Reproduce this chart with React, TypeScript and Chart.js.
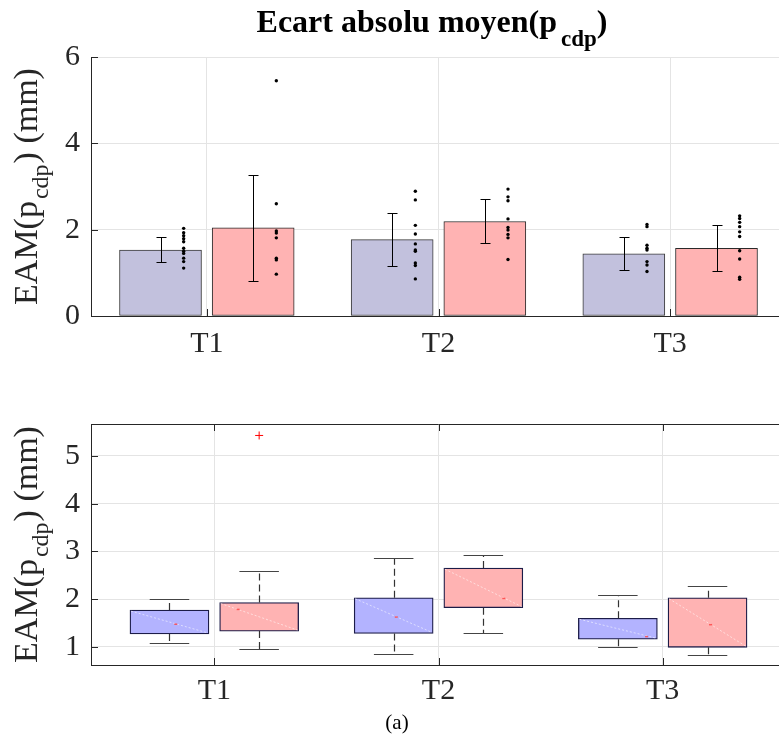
import React, { useEffect, useRef } from 'react';
import { Chart, registerables } from 'chart.js';

Chart.register(...registerables);

// ---------- data ----------
const categories = ['T1', 'T2', 'T3'];

// top panel: mean bars
const barBlue = [1.53, 1.77, 1.44];
const barRed = [2.04, 2.19, 1.57];
const errBlueLow = [1.24, 1.15, 1.06];
const errBlueHigh = [1.83, 2.39, 1.82];
const errRedLow = [0.82, 1.68, 1.04];
const errRedHigh = [3.26, 2.70, 2.11];

// individual observations
const dotsBlueT1 = [2.03, 1.93, 1.86, 1.79, 1.72, 1.57, 1.50, 1.45, 1.34, 1.26, 1.11];
const dotsBlueT2 = [2.89, 2.69, 2.10, 1.90, 1.67, 1.53, 1.50, 1.23, 1.17, 0.86];
const dotsBlueT3 = [2.12, 2.07, 1.64, 1.57, 1.53, 1.26, 1.18, 1.03];
const dotsRedT1 = [5.45, 2.60, 1.97, 1.92, 1.81, 1.34, 1.30, 0.97];
const dotsRedT2 = [2.94, 2.76, 2.67, 2.25, 2.05, 1.99, 1.89, 1.81, 1.31];
const dotsRedT3 = [2.32, 2.26, 2.17, 2.07, 1.95, 1.84, 1.51, 1.32, 0.90, 0.85];
const dotsBlue = [dotsBlueT1, dotsBlueT2, dotsBlueT3];
const dotsRed = [dotsRedT1, dotsRedT2, dotsRedT3];

const yTicksTop = [0, 2, 4, 6];
const yTicksBottom = [1, 2, 3, 4, 5];

// bottom panel: box plot statistics
const boxBlueQ1 = [1.27, 1.28, 1.16];
const boxBlueQ3 = [1.77, 2.03, 1.60];
const boxBlueMed = [1.48, 1.63, 1.22];
const boxBlueLo = [1.09, 0.85, 0.99];
const boxBlueHi = [2.01, 2.87, 2.09];
const boxRedQ1 = [1.33, 1.82, 0.99];
const boxRedQ3 = [1.93, 2.65, 2.03];
const boxRedMed = [1.79, 2.02, 1.47];
const boxRedLo = [0.95, 1.29, 0.83];
const boxRedHi = [2.58, 2.93, 2.28];
const outlierCat = [1];
const outlierVal = [5.43];

// ---------- style / layout ----------
const FONT = "'Liberation Serif', 'Times New Roman', serif";
const AXIS = '#262626';
const GRID = '#e4e4e4';
const OFF = 0.2;
const DOT_SHIFT = 0.1;

type Part = { t: string; font: string; dy: number; gap?: number };

function drawRich(ctx: CanvasRenderingContext2D, parts: Part[], cx: number, y: number) {
  let total = 0;
  const widths = parts.map((p) => {
    ctx.font = p.font;
    const w = ctx.measureText(p.t).width + (p.gap || 0);
    total += w;
    return w;
  });
  let x = cx - total / 2;
  ctx.textAlign = 'left';
  ctx.textBaseline = 'alphabetic';
  parts.forEach((p, i) => {
    ctx.font = p.font;
    ctx.fillText(p.t, x + (p.gap || 0), y + p.dy);
    x += widths[i];
  });
}

function yLabelParts(): Part[] {
  return [
    { t: 'EAM(p', font: `34px ${FONT}`, dy: 0 },
    { t: 'cdp', font: `24px ${FONT}`, dy: 11, gap: 2 },
    { t: ') (mm)', font: `34px ${FONT}`, dy: 0, gap: 1 },
  ];
}

const inwardTicks = (drawTop: boolean) => ({
  id: 'inwardTicks',
  afterDraw(chart: any) {
    const { ctx, chartArea } = chart;
    const xs = chart.scales.x;
    const ys = chart.scales.y;
    ctx.save();
    ctx.strokeStyle = AXIS;
    ctx.lineWidth = 1;
    ctx.beginPath();
    ys.ticks.forEach((t: any) => {
      const y = Math.round(ys.getPixelForValue(t.value)) + 0.5;
      ctx.moveTo(chartArea.left, y);
      ctx.lineTo(chartArea.left + 7, y);
    });
    xs.ticks.forEach((t: any) => {
      const x = Math.round(xs.getPixelForValue(t.value)) + 0.5;
      ctx.moveTo(x, chartArea.bottom);
      ctx.lineTo(x, chartArea.bottom - 7);
      if (drawTop) {
        ctx.moveTo(x, chartArea.top);
        ctx.lineTo(x, chartArea.top + 7);
      }
    });
    if (drawTop) {
      const yt = Math.round(chartArea.top) + 0.5;
      ctx.moveTo(chartArea.left, yt);
      ctx.lineTo(chartArea.right, yt);
    }
    ctx.stroke();
    ctx.restore();
  },
});

const topTextPlugin = {
  id: 'topText',
  afterDraw(chart: any) {
    const { ctx, chartArea } = chart;
    ctx.save();
    ctx.fillStyle = '#000';
    drawRich(
      ctx,
      [
        { t: 'Ecart absolu moyen(p', font: `bold 32px ${FONT}`, dy: 0 },
        { t: 'cdp', font: `bold 23px ${FONT}`, dy: 14, gap: 4 },
        { t: ')', font: `bold 32px ${FONT}`, dy: 0 },
      ],
      432,
      32
    );
    ctx.fillStyle = AXIS;
    ctx.translate(37, (chartArea.top + chartArea.bottom) / 2);
    ctx.rotate(-Math.PI / 2);
    drawRich(ctx, yLabelParts(), 0, 0);
    ctx.restore();
  },
};

const bottomTextPlugin = {
  id: 'bottomText',
  afterDraw(chart: any) {
    const { ctx, chartArea } = chart;
    ctx.save();
    ctx.fillStyle = AXIS;
    ctx.save();
    ctx.translate(37, (chartArea.top + chartArea.bottom) / 2);
    ctx.rotate(-Math.PI / 2);
    drawRich(ctx, yLabelParts(), 0, 0);
    ctx.restore();
    ctx.fillStyle = '#000';
    ctx.font = `21px ${FONT}`;
    ctx.textAlign = 'center';
    ctx.textBaseline = 'middle';
    ctx.fillText('(a)', 397, 351);
    ctx.restore();
  },
};

const errorBarPlugin = {
  id: 'errorBars',
  afterDatasetsDraw(chart: any) {
    const { ctx } = chart;
    const xs = chart.scales.x;
    const ys = chart.scales.y;
    ctx.save();
    ctx.strokeStyle = '#000';
    ctx.lineWidth = 1;
    const draw = (xv: number, lo: number, hi: number) => {
      const x = Math.round(xs.getPixelForValue(xv)) + 0.5;
      const y1 = Math.round(ys.getPixelForValue(lo)) + 0.5;
      const y2 = Math.round(ys.getPixelForValue(hi)) + 0.5;
      ctx.beginPath();
      ctx.moveTo(x, y1);
      ctx.lineTo(x, y2);
      ctx.moveTo(x - 5, y1);
      ctx.lineTo(x + 5, y1);
      ctx.moveTo(x - 5, y2);
      ctx.lineTo(x + 5, y2);
      ctx.stroke();
    };
    categories.forEach((_, i) => {
      draw(i + 1 - OFF, errBlueLow[i], errBlueHigh[i]);
      draw(i + 1 + OFF, errRedLow[i], errRedHigh[i]);
    });
    ctx.restore();
  },
};

const boxPlugin = {
  id: 'boxParts',
  afterDatasetsDraw(chart: any) {
    const { ctx } = chart;
    const ys = chart.scales.y;
    const groups = [
      { ds: 0, lo: boxBlueLo, hi: boxBlueHi, q1: boxBlueQ1, q3: boxBlueQ3, med: boxBlueMed },
      { ds: 1, lo: boxRedLo, hi: boxRedHi, q1: boxRedQ1, q3: boxRedQ3, med: boxRedMed },
    ];
    ctx.save();
    groups.forEach((g) => {
      const meta = chart.getDatasetMeta(g.ds);
      meta.data.forEach((el: any, i: number) => {
        const x = Math.round(el.x) + 0.5;
        const w = el.width;
        const left = el.x - w / 2;
        const right = el.x + w / 2;
        const yq1 = ys.getPixelForValue(g.q1[i]);
        const yq3 = ys.getPixelForValue(g.q3[i]);
        const ylo = Math.round(ys.getPixelForValue(g.lo[i])) + 0.5;
        const yhi = Math.round(ys.getPixelForValue(g.hi[i])) + 0.5;
        const ymed = ys.getPixelForValue(g.med[i]);
        // faint diagonal
        ctx.strokeStyle = 'rgba(255,255,255,0.55)';
        ctx.lineWidth = 1;
        ctx.setLineDash([2, 2]);
        ctx.beginPath();
        ctx.moveTo(left + 1, yq3 + 1);
        ctx.lineTo(right - 1, yq1 - 1);
        ctx.stroke();
        // median mark on the diagonal
        const t = (ymed - yq3) / (yq1 - yq3);
        ctx.fillStyle = 'rgba(255,60,60,0.8)';
        ctx.fillRect(left + t * w - 1.5, ymed - 0.5, 3, 1.5);
        // whiskers
        ctx.strokeStyle = '#333333';
        ctx.lineWidth = 1.2;
        ctx.setLineDash([7, 4]);
        ctx.beginPath();
        ctx.moveTo(x, yq3);
        ctx.lineTo(x, yhi);
        ctx.moveTo(x, yq1);
        ctx.lineTo(x, ylo);
        ctx.stroke();
        ctx.setLineDash([]);
        ctx.strokeStyle = '#444444';
        ctx.beginPath();
        ctx.moveTo(el.x - w / 4, yhi);
        ctx.lineTo(el.x + w / 4, yhi);
        ctx.moveTo(el.x - w / 4, ylo);
        ctx.lineTo(el.x + w / 4, ylo);
        ctx.stroke();
      });
    });
    ctx.restore();
  },
};

function xScale(min: number, max: number, height: number, pad: number) {
  return {
    type: 'linear' as const,
    min,
    max,
    offset: false,
    afterBuildTicks: (s: any) => {
      s.ticks = categories.map((_, i) => ({ value: i + 1 }));
    },
    afterFit: (s: any) => {
      s.height = height;
    },
    grid: { color: GRID, lineWidth: 1, drawTicks: false, offset: false },
    border: { display: true, color: AXIS, width: 1 },
    ticks: {
      color: AXIS,
      font: { family: FONT, size: 30 },
      padding: pad,
      maxRotation: 0,
      autoSkip: false,
      callback: (v: any) => categories[Math.round(v) - 1] ?? '',
    },
  };
}

function yScale(min: number, max: number, ticksList: number[]) {
  return {
    type: 'linear' as const,
    min,
    max,
    afterBuildTicks: (s: any) => {
      s.ticks = ticksList.map((v) => ({ value: v }));
    },
    afterFit: (s: any) => {
      s.width = 91;
    },
    grid: { color: GRID, lineWidth: 1, drawTicks: false },
    border: { display: true, color: AXIS, width: 1 },
    ticks: {
      color: AXIS,
      font: { family: FONT, size: 30 },
      padding: 11,
      callback: (v: any) => String(v),
    },
  };
}

export default function App() {
  const topRef = useRef<HTMLCanvasElement>(null);
  const botRef = useRef<HTMLCanvasElement>(null);

  useEffect(() => {
    const blueDots: any[] = [];
    const redDots: any[] = [];
    categories.forEach((_, i) => {
      dotsBlue[i].forEach((v) => blueDots.push({ x: i + 1 - OFF + DOT_SHIFT, y: v }));
      dotsRed[i].forEach((v) => redDots.push({ x: i + 1 + OFF + DOT_SHIFT, y: v }));
    });

    const top = new Chart(topRef.current as HTMLCanvasElement, {
      type: 'bar',
      data: {
        datasets: [
          {
            type: 'scatter',
            data: blueDots,
            pointRadius: 1.7,
            pointBackgroundColor: '#000',
            pointBorderWidth: 0,
          } as any,
          {
            type: 'scatter',
            data: redDots,
            pointRadius: 1.7,
            pointBackgroundColor: '#000',
            pointBorderWidth: 0,
          } as any,
          {
            type: 'bar',
            data: categories.map((_, i) => ({ x: i + 1 - OFF, y: barBlue[i] })),
            backgroundColor: '#c2c1dd',
            borderColor: '#3a3a3a',
            borderWidth: 1,
            borderSkipped: false,
            grouped: false,
            barPercentage: 1,
            categoryPercentage: 1,
            maxBarThickness: 82,
          } as any,
          {
            type: 'bar',
            data: categories.map((_, i) => ({ x: i + 1 + OFF, y: barRed[i] })),
            backgroundColor: '#ffb3b3',
            borderColor: '#2a2a2a',
            borderWidth: 1,
            borderSkipped: false,
            grouped: false,
            barPercentage: 1,
            categoryPercentage: 1,
            maxBarThickness: 82,
          } as any,
        ],
      },
      options: {
        responsive: false,
        maintainAspectRatio: false,
        animation: false,
        devicePixelRatio: 1,
        events: [],
        layout: { padding: { top: 57, right: 14, left: 0, bottom: 0 } },
        plugins: { legend: { display: false }, tooltip: { enabled: false }, title: { display: false } },
        scales: {
          x: xScale(0.5, 3.5, 56, 10),
          y: yScale(0, 6, yTicksTop),
        } as any,
      },
      plugins: [errorBarPlugin, inwardTicks(false), topTextPlugin],
    });

    const bottom = new Chart(botRef.current as HTMLCanvasElement, {
      type: 'bar',
      data: {
        datasets: [
          {
            type: 'bar',
            data: categories.map((_, i) => ({ x: i + 1 - OFF, y: [boxBlueQ1[i], boxBlueQ3[i]] })),
            backgroundColor: '#b3b3ff',
            borderColor: '#1c1c48',
            borderWidth: 1.3,
            borderSkipped: false,
            grouped: false,
            barPercentage: 1,
            categoryPercentage: 1,
            maxBarThickness: 79,
          } as any,
          {
            type: 'bar',
            data: categories.map((_, i) => ({ x: i + 1 + OFF, y: [boxRedQ1[i], boxRedQ3[i]] })),
            backgroundColor: '#ffb3b3',
            borderColor: '#1c1c48',
            borderWidth: 1.3,
            borderSkipped: false,
            grouped: false,
            barPercentage: 1,
            categoryPercentage: 1,
            maxBarThickness: 79,
          } as any,
          {
            type: 'scatter',
            data: outlierCat.map((c, i) => ({ x: c + OFF, y: outlierVal[i] })),
            pointStyle: 'cross',
            pointRadius: 4,
            borderColor: '#ff0000',
            pointBorderColor: '#ff0000',
            pointBorderWidth: 1,
          } as any,
        ],
      },
      options: {
        responsive: false,
        maintainAspectRatio: false,
        animation: false,
        devicePixelRatio: 1,
        events: [],
        layout: { padding: { top: 52, right: 14, left: 0, bottom: 0 } },
        plugins: { legend: { display: false }, tooltip: { enabled: false }, title: { display: false } },
        scales: {
          x: xScale(0.45, 3.55, 79, 8),
          y: yScale(0.62, 5.67, yTicksBottom),
        } as any,
      },
      plugins: [boxPlugin, inwardTicks(true), bottomTextPlugin],
    });

    return () => {
      top.destroy();
      bottom.destroy();
    };
  }, []);

  return (
    <div
      style={{
        position: 'absolute',
        left: 0,
        top: 0,
        width: 779,
        height: 744,
        overflow: 'hidden',
        background: '#ffffff',
      }}
    >
      <canvas
        ref={topRef}
        width={800}
        height={372}
        style={{ position: 'absolute', left: 0, top: 0, width: 800, height: 372 }}
      />
      <canvas
        ref={botRef}
        width={800}
        height={372}
        style={{ position: 'absolute', left: 0, top: 372, width: 800, height: 372 }}
      />
    </div>
  );
}
